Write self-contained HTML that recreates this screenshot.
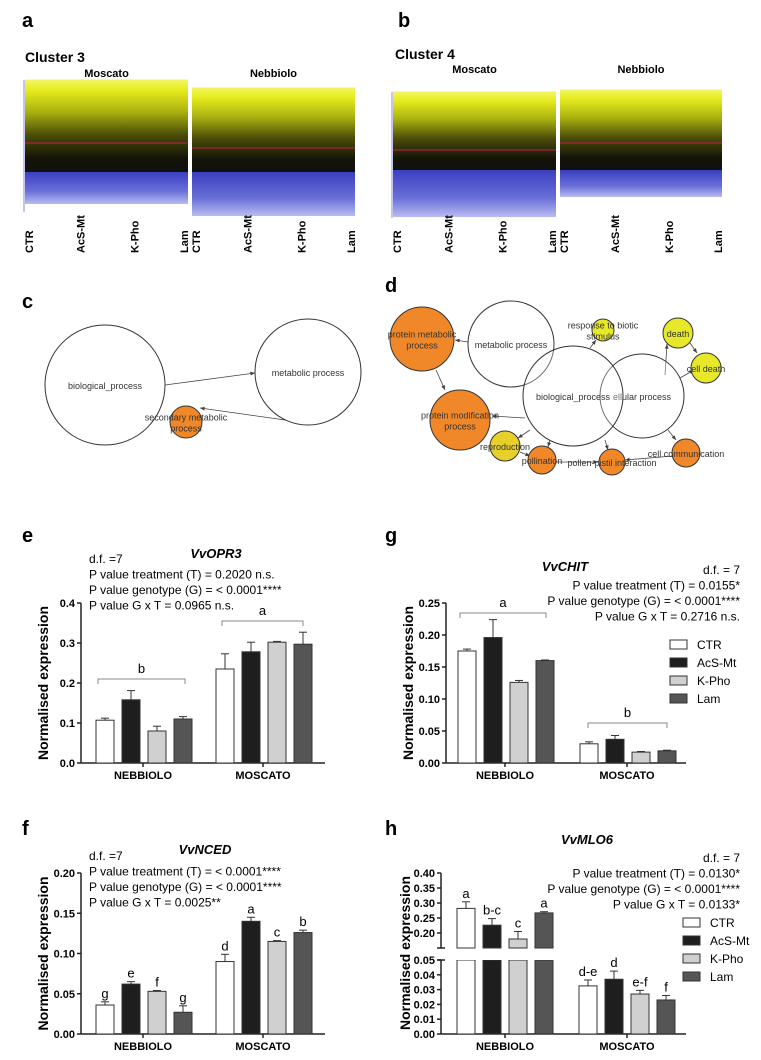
<!DOCTYPE html>
<html><head><meta charset="utf-8"><style>
html,body{margin:0;padding:0;background:#fff}
svg{display:block;font-family:"Liberation Sans",Arial,sans-serif}
</style></head><body>
<svg id="fig" width="761" height="1060" viewBox="0 0 761 1060" xmlns="http://www.w3.org/2000/svg">
<defs>
<linearGradient id="gA" x1="0" y1="0" x2="0" y2="1">
<stop offset="0" stop-color="#f4f75a"/><stop offset="0.12" stop-color="#e4ea1c"/><stop offset="0.35" stop-color="#a9b010"/><stop offset="0.6" stop-color="#4a4c08"/><stop offset="0.85" stop-color="#141408"/><stop offset="1" stop-color="#101010"/>
</linearGradient>
<linearGradient id="gB" x1="0" y1="0" x2="0" y2="1">
<stop offset="0" stop-color="#3a3fc0"/><stop offset="0.6" stop-color="#6a70d8"/><stop offset="1" stop-color="#b8bcf0"/>
</linearGradient>
</defs>
<g id="topgrp"></g>
<g id="net"></g>
<g id="bars"></g>
</svg>
<script>
// ---- data ----
const treatments = ["CTR","AcS-Mt","K-Pho","Lam"];
const genotypes = ["NEBBIOLO","MOSCATO"];
const opr3Neb = [0.107,0.158,0.080,0.110];
const opr3NebErr = [0.005,0.023,0.012,0.006];
const opr3Mos = [0.235,0.278,0.302,0.297];
const opr3MosErr = [0.038,0.024,0.002,0.030];
const opr3Ticks = [0,0.1,0.2,0.3,0.4];
const chitNeb = [0.175,0.196,0.126,0.160];
const chitNebErr = [0.003,0.028,0.003,0.001];
const chitMos = [0.030,0.037,0.017,0.019];
const chitMosErr = [0.003,0.006,0.001,0.001];
const chitTicks = [0,0.05,0.10,0.15,0.20,0.25];
const ncedNeb = [0.036,0.062,0.053,0.027];
const ncedNebErr = [0.004,0.003,0.001,0.008];
const ncedMos = [0.090,0.140,0.115,0.126];
const ncedMosErr = [0.009,0.005,0.001,0.003];
const ncedTicks = [0,0.05,0.10,0.15,0.20];
const ncedLetters = ["g","e","f","g","d","a","c","b"];
const mloNeb = [0.282,0.226,0.180,0.267];
const mloNebErr = [0.022,0.022,0.025,0.004];
const mloMos = [0.0325,0.037,0.027,0.023];
const mloMosErr = [0.004,0.0055,0.0025,0.003];
const mloTicksLow = [0,0.01,0.02,0.03,0.04,0.05];
const mloTicksHigh = [0.20,0.25,0.30,0.35,0.40];
const mloLetters = ["a","b-c","c","a","d-e","d","e-f","f"];

const NS="http://www.w3.org/2000/svg";
function mk(parent,tag,attrs,text){const e=document.createElementNS(NS,tag);for(const k in attrs)e.setAttribute(k,attrs[k]);if(text!==undefined)e.textContent=text;parent.appendChild(e);return e;}
const fills=["#ffffff","#1e1e1e","#d0d0d0","#555555"];
const fmt=(v,d)=>v.toFixed(d);

// ---- top cluster panels ----
const topG=document.getElementById('topgrp');
function lbl(x,y,t,s,w,anchor,name){const e=mk(topG,'text',{x:x,y:y,'font-size':s,'font-weight':w||'normal','text-anchor':anchor||'start'},t);return e;}
lbl(22,27,"a",20,"bold","start","panel-label-a");
lbl(398,27,"b",20,"bold","start","panel-label-b");
lbl(25,62,"Cluster 3",14,"bold","start","cluster-3-title");
lbl(395,59,"Cluster 4",14,"bold","start","cluster-4-title");
const blocks=[
 {x:25,w:163,top:80,blk:172,bot:204,red:143,title:"Moscato"},
 {x:192,w:163,top:88,blk:172,bot:216,red:148,title:"Nebbiolo"},
 {x:393,w:163,top:92,blk:170,bot:217,red:150,title:"Moscato"},
 {x:560,w:162,top:90,blk:170,bot:197,red:143,title:"Nebbiolo"}];
const labelOffsets=[8,5,5,0];
blocks.forEach((b,i)=>{
 const g=mk(topG,'g',{});
 
 
 mk(g,'rect',{x:b.x,y:b.top,width:b.w,height:b.blk-b.top,fill:'url(#gA)'});
 mk(g,'rect',{x:b.x,y:b.blk,width:b.w,height:b.bot-b.blk,fill:'url(#gB)'});
 mk(g,'line',{x1:b.x,y1:b.red,x2:b.x+b.w,y2:b.red,stroke:'#c02050','stroke-width':1});
 mk(g,'line',{x1:b.x,y1:b.top,x2:b.x+b.w,y2:b.top,stroke:'#eef070','stroke-width':1});
 const t=mk(topG,'text',{x:b.x+b.w/2,y:b.x<380?77:73,'font-size':11,'font-weight':'bold','text-anchor':'middle'},b.title);
 
 for(let k=0;k<4;k++){
  const xx=b.x+k*b.w/3+labelOffsets[k];
  const tt=mk(topG,'text',{x:xx,y:253,'font-size':11,'font-weight':'bold',transform:`rotate(-90 ${xx} 253)`},treatments[k]);
  
 }
});
[[24,80,212],[392,92,218]].forEach(a=>{mk(topG,'line',{x1:a[0],y1:a[1],x2:a[0],y2:a[2],stroke:'#8888dd','stroke-width':1});});

// ---- networks ----
const net=document.getElementById('net');
lbl(22,308,"c",20,"bold","start","panel-label-c");
lbl(385,292,"d",20,"bold","start","panel-label-d");
function node(cx,cy,r,fill,lines,name,fs){
 const g=mk(net,'g',{});
 mk(g,'circle',{cx:cx,cy:cy,r:r,fill:fill,stroke:'#333','stroke-width':1,'fill-opacity':fill=='#fff'?0.3:1});
 lines.forEach((l,i)=>mk(g,'text',{x:cx,y:cy+4+(i-(lines.length-1)/2)*11,'font-size':fs||9,'text-anchor':'middle',fill:'#333'},l));
}
function arrow(x1,y1,x2,y2){mk(net,'line',{x1:x1,y1:y1,x2:x2,y2:y2,stroke:'#444','stroke-width':0.8});const a=Math.atan2(y2-y1,x2-x1);mk(net,'path',{d:`M${x2} ${y2} L${x2-5*Math.cos(a-0.4)} ${y2-5*Math.sin(a-0.4)} L${x2-5*Math.cos(a+0.4)} ${y2-5*Math.sin(a+0.4)}Z`,fill:'#444'});}
arrow(165,385,255,373);arrow(285,420,200,408);
node(105,385,60,'#fff',["biological_process"],'node-biological-process');
node(308,372,53,'#fff',["metabolic process"],'node-metabolic-process');
node(186,422,16,'#f0882a',["secondary metabolic","process"],'node-secondary-metabolic-process');
arrow(468,342,455,340);arrow(436,370,445,390);arrow(525,418,492,416);arrow(665,375,667,344);arrow(690,343,697,353);arrow(680,378,694,370);
arrow(590,348,596,340);arrow(530,430,518,438);arrow(550,440,548,447);arrow(605,440,608,450);arrow(668,430,676,440);arrow(520,452,530,456);arrow(673,456,625,460);arrow(557,462,598,462);
node(422,339,32,'#f0882a',["protein metabolic","process"],'node-protein-metabolic-process');
node(511,344,43,'#fff',["metabolic process"],'node-metabolic-process-d');
node(460,420,30,'#f0882a',["protein modification","process"],'node-protein-modification-process');
node(642,396,42,'#fff',["ellular process"],'node-cellular-process');
node(573,396,50,'#fff',["biological_process"],'node-biological-process-d');
node(603,330,11,'#e8e82a',["response to biotic","stimulus"],'node-response-biotic');
node(678,333,15,'#e8e82a',["death"],'node-death');
node(706,368,15,'#e8e82a',["cell death"],'node-cell-death');
node(505,446,15,'#e8d02a',["reproduction"],'node-reproduction');
node(542,460,14,'#f0882a',["pollination"],'node-pollination');
node(612,462,13,'#f0882a',["pollen-pistil interaction"],'node-pollen-pistil');
node(686,453,14,'#f0882a',["cell communication"],'node-cell-communication');

// ---- bar charts ----
const bars=document.getElementById('bars');
function T(x,y,t,o,name){const e=mk(bars,'text',Object.assign({x:x,y:y,'font-size':12},o||{}),t);return e;}
function drawBar(x,w,yTop,yBase,err,i,name){
 const r=mk(bars,'rect',{x:x,y:yTop,width:w,height:yBase-yTop,fill:fills[i],stroke:'#333','stroke-width':1});
 
 mk(bars,'line',{x1:x+w/2,y1:yTop,x2:x+w/2,y2:err,stroke:'#333','stroke-width':1});
 mk(bars,'line',{x1:x+w/2-4,y1:err,x2:x+w/2+4,y2:err,stroke:'#333','stroke-width':1});
}
function chart(o){
 const y=v=>o.y0-v*o.scale;
 mk(bars,'line',{x1:o.ax,y1:o.y0,x2:o.ax,y2:y(o.ticks[o.ticks.length-1]),stroke:'#222','stroke-width':1.5});
 mk(bars,'line',{x1:o.ax,y1:o.y0,x2:o.axEnd,y2:o.y0,stroke:'#222','stroke-width':1.5});
 o.ticks.forEach(t=>{mk(bars,'line',{x1:o.ax-4,y1:y(t),x2:o.ax,y2:y(t),stroke:'#222','stroke-width':1.5});T(o.ax-6,y(t)+4,fmt(t,o.dec),{'text-anchor':'end','font-weight':'bold','font-size':11},'y-tick-label');});
 o.groups.forEach((gx,gi)=>{
  mk(bars,'line',{x1:gx,y1:o.y0,x2:gx,y2:o.y0+4,stroke:'#222','stroke-width':1.5});
  T(gx,o.y0+16,genotypes[gi],{'text-anchor':'middle','font-weight':'bold','font-size':11},'x-group-label');
  const vals=gi?o.mos:o.neb, errs=gi?o.mosE:o.nebE;
  vals.forEach((v,i)=>{const bx=gx-47+i*26;drawBar(bx,18,y(v),o.y0,y(v+errs[i]),i,'bar-'+genotypes[gi].toLowerCase()+'-'+treatments[i].toLowerCase());
   if(o.letters)T(bx+9,y(v+errs[i])-4,o.letters[gi*4+i],{'text-anchor':'middle','font-size':13},'significance-letter');});
 });
 const cy=(o.y0+y(o.ticks[o.ticks.length-1]))/2;
 T(o.ax-33,cy,"Normalised expression",{'text-anchor':'middle','font-weight':'bold','font-size':14,transform:`rotate(-90 ${o.ax-33} ${cy})`},'y-axis-title');
 return y;
}
function legend(x,y0){treatments.forEach((t,i)=>{const g=mk(bars,'g',{});mk(g,'rect',{x:x,y:y0+i*18-8,width:17,height:9,fill:fills[i],stroke:'#333','stroke-width':1});mk(g,'text',{x:x+27,y:y0+i*18+1,'font-size':12},t);});}
function bracket(x1,x2,yy,l){mk(bars,'path',{d:`M${x1} ${yy+5}V${yy}H${x2}V${yy+5}`,fill:'none',stroke:'#888','stroke-width':1});T((x1+x2)/2,yy-6,l,{'text-anchor':'middle','font-size':13},'group-letter');}

// e
T(22,542,"e",{'font-size':20,'font-weight':'bold'},'panel-label-e');
T(216,558,"VvOPR3",{'font-size':13,'font-weight':'bold','font-style':'italic','text-anchor':'middle'},'chart-title-e');
["d.f. =7","P value treatment (T) = 0.2020 n.s.","P value genotype (G) = < 0.0001****","P value G x T = 0.0965 n.s."].forEach((s,i)=>T(89,563+i*15.5,s,{},'stats-text'));
chart({ax:81,axEnd:325,y0:763,scale:400,ticks:opr3Ticks,dec:1,groups:[143,263],neb:opr3Neb,nebE:opr3NebErr,mos:opr3Mos,mosE:opr3MosErr});
bracket(98,185,679,"b");bracket(222,303,621,"a");

// g
T(385,542,"g",{'font-size':20,'font-weight':'bold'},'panel-label-g');
T(565,571,"VvCHIT",{'font-size':13,'font-weight':'bold','font-style':'italic','text-anchor':'middle'},'chart-title-g');
["d.f. = 7","P value treatment (T) = 0.0155*","P value genotype (G) = < 0.0001****","P value G x T = 0.2716 n.s."].forEach((s,i)=>T(740,574+i*15.5,s,{'text-anchor':'end'},'stats-text'));
chart({ax:446,axEnd:686,y0:763,scale:640,ticks:chitTicks,dec:2,groups:[505,627],neb:chitNeb,nebE:chitNebErr,mos:chitMos,mosE:chitMosErr});
bracket(460,546,613,"a");bracket(588,667,723,"b");
legend(670,648);

// f
T(22,835,"f",{'font-size':20,'font-weight':'bold'},'panel-label-f');
T(205,854,"VvNCED",{'font-size':13,'font-weight':'bold','font-style':'italic','text-anchor':'middle'},'chart-title-f');
["d.f. =7","P value treatment (T) = < 0.0001****","P value genotype (G) = < 0.0001****","P value G x T = 0.0025**"].forEach((s,i)=>T(89,860+i*15.5,s,{},'stats-text'));
chart({ax:81,axEnd:325,y0:1034,scale:805,ticks:ncedTicks,dec:2,groups:[143,263],neb:ncedNeb,nebE:ncedNebErr,mos:ncedMos,mosE:ncedMosErr,letters:ncedLetters});

// h (broken axis)
T(385,835,"h",{'font-size':20,'font-weight':'bold'},'panel-label-h');
T(587,844,"VvMLO6",{'font-size':13,'font-weight':'bold','font-style':'italic','text-anchor':'middle'},'chart-title-h');
["d.f. = 7","P value treatment (T) = 0.0130*","P value genotype (G) = < 0.0001****","P value G x T = 0.0133*"].forEach((s,i)=>T(740,862+i*15.5,s,{'text-anchor':'end'},'stats-text'));
(function(){
 const ax=441,axEnd=686,y0=1034,lowScale=1480,hiBase=948,hiMin=0.15,hiScale=300,lowTop=960;
 const yL=v=>y0-v*lowScale;
 const yH=v=>hiBase-(v-hiMin)*hiScale;
 const yv=v=>v<=0.05?yL(v):yH(Math.max(v,hiMin));
 mk(bars,'line',{x1:ax,y1:y0,x2:ax,y2:lowTop,stroke:'#222','stroke-width':1.5});
 mk(bars,'line',{x1:ax,y1:hiBase,x2:ax,y2:yH(0.40),stroke:'#222','stroke-width':1.5});
 mk(bars,'line',{x1:ax-4,y1:lowTop,x2:ax+4,y2:lowTop,stroke:'#222','stroke-width':1.5});
 mk(bars,'line',{x1:ax-4,y1:hiBase,x2:ax+4,y2:hiBase,stroke:'#222','stroke-width':1.5});
 mk(bars,'line',{x1:ax,y1:y0,x2:axEnd,y2:y0,stroke:'#222','stroke-width':1.5});
 mloTicksLow.forEach(t=>{mk(bars,'line',{x1:ax-4,y1:yL(t),x2:ax,y2:yL(t),stroke:'#222','stroke-width':1.5});T(ax-6,yL(t)+4,fmt(t,2),{'text-anchor':'end','font-weight':'bold','font-size':11},'y-tick-label');});
 mloTicksHigh.forEach(t=>{mk(bars,'line',{x1:ax-4,y1:yH(t),x2:ax,y2:yH(t),stroke:'#222','stroke-width':1.5});T(ax-6,yH(t)+4,fmt(t,2),{'text-anchor':'end','font-weight':'bold','font-size':11},'y-tick-label');});
 [505,627].forEach((gx,gi)=>{
  mk(bars,'line',{x1:gx,y1:y0,x2:gx,y2:y0+4,stroke:'#222','stroke-width':1.5});
  T(gx,y0+16,genotypes[gi],{'text-anchor':'middle','font-weight':'bold','font-size':11},'x-group-label');
  const vals=gi?mloMos:mloNeb,errs=gi?mloMosErr:mloNebErr;
  vals.forEach((v,i)=>{const bx=gx-48+i*26;const nm='bar-'+genotypes[gi].toLowerCase()+'-'+treatments[i].toLowerCase();
   if(v>0.05){
    const r1=mk(bars,'rect',{x:bx,y:lowTop,width:18,height:y0-lowTop,fill:fills[i],stroke:'#333','stroke-width':1});
    
    
    mk(bars,'rect',{x:bx-1,y:hiBase,width:20,height:lowTop-hiBase,fill:'#fff'});
    drawBar(bx,18,yv(v),hiBase,yv(v+errs[i]),i,nm);
   } else drawBar(bx,18,yv(v),y0,yv(v+errs[i]),i,nm);
   T(bx+9,yv(v+errs[i])-4,mloLetters[gi*4+i],{'text-anchor':'middle','font-size':13},'significance-letter');});
 });
 T(ax-31,953,"Normalised expression",{'text-anchor':'middle','font-weight':'bold','font-size':14,transform:`rotate(-90 ${ax-31} 953)`},'y-axis-title');
})();
legend(683,926);
</script>
</body></html>
